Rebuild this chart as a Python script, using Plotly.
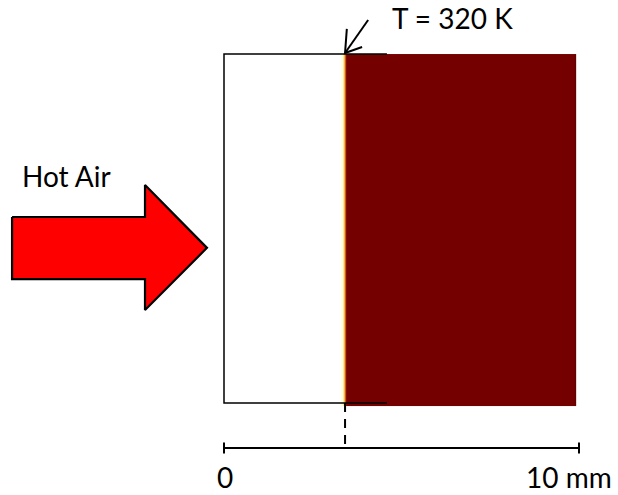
import plotly.graph_objects as go

# ---- data (all in mm) ----
scale_bar_mm = [0, 10]
scale_labels = ["0", "10 mm"]
domain_x = [0.0, 9.915]          # sample width
domain_y = [0.0, 9.83]           # sample height
front_x = 3.41                   # position of the T = 320 K front
front_label = "T = 320 K"
air_label = "Hot Air"

# temperature field across x (column edges) and relative temperature per column
field_x_edges = [3.30, 3.36, 3.39, 3.42, 3.45, 9.86, 9.915]
field_z = [0.05, 0.25, 0.5, 0.75, 1.0, 0.97]
field_colorscale = [[0.0, "#ffffff"], [0.1, "#fff8c8"], [0.3, "#ffe070"],
                    [0.55, "#f0a030"], [0.8, "#c03010"], [0.97, "#680000"], [1.0, "#740000"]]

# hot-air arrow outline (mm)
arrow_x = [-5.97, -2.225, -2.225, -0.48, -2.225, -2.225, -5.97, -5.97]
arrow_y = [5.24, 5.24, 6.14, 4.37, 2.62, 3.49, 3.49, 5.24]

# outline of the virgin (left) part of the sample
outline_x = [4.59, 0.0, 0.0, 4.59]
outline_y = [domain_y[1], domain_y[1], domain_y[0], domain_y[0]]

bar_y = -1.27
tick_half = 0.155

fig = go.Figure()

# temperature field
fig.add_trace(go.Heatmap(
    x=field_x_edges, y=[-0.085, domain_y[1]],
    z=[field_z], zmin=0, zmax=1, colorscale=field_colorscale,
    showscale=False, hoverinfo="skip"))

# outline
fig.add_trace(go.Scatter(x=outline_x, y=outline_y, mode="lines",
                         line=dict(color="black", width=1.5), hoverinfo="skip"))

# hot air arrow
fig.add_trace(go.Scatter(x=arrow_x, y=arrow_y, mode="lines", fill="toself",
                         fillcolor="#ff0000", line=dict(color="black", width=2.2),
                         hoverinfo="skip"))

# dashed line from front to scale bar
fig.add_trace(go.Scatter(x=[front_x, front_x], y=[domain_y[0], bar_y], mode="lines",
                         line=dict(color="black", width=2, dash="9px,7px"),
                         hoverinfo="skip"))

# scale bar with end ticks
fig.add_trace(go.Scatter(x=scale_bar_mm, y=[bar_y, bar_y], mode="lines",
                         line=dict(color="black", width=2), hoverinfo="skip"))
for xv in scale_bar_mm:
    fig.add_trace(go.Scatter(x=[xv, xv], y=[bar_y + tick_half, bar_y - tick_half],
                             mode="lines", line=dict(color="black", width=2),
                             hoverinfo="skip"))

# pointer arrow to the front (shaft + open head)
tail = (4.06, 10.79)
head = (front_x, domain_y[1] + 0.03)
fig.add_trace(go.Scatter(x=[tail[0], head[0]], y=[tail[1], head[1]], mode="lines",
                         line=dict(color="black", width=2), hoverinfo="skip"))
fig.add_trace(go.Scatter(x=[3.46, head[0], 3.89], y=[10.54, head[1], 10.03], mode="lines",
                         line=dict(color="black", width=2), hoverinfo="skip"))

font = dict(family="Lato, Carlito, Calibri, sans-serif", size=28, color="black")
fig.add_annotation(x=6.45, y=10.85, text=front_label, showarrow=False, font=font)
fig.add_annotation(x=-4.45, y=6.39, text=air_label, showarrow=False, font=font)
fig.add_annotation(x=0.03, y=-2.08, text=scale_labels[0], showarrow=False, font=font)
fig.add_annotation(x=9.72, y=-2.08, text=scale_labels[1], showarrow=False, font=font)

fig.update_layout(
    width=618, height=495,
    margin=dict(l=0, r=0, t=0, b=0),
    paper_bgcolor="white", plot_bgcolor="white",
    showlegend=False,
    xaxis=dict(range=[-224 / 35.5, (618 - 224) / 35.5], visible=False, fixedrange=True),
    yaxis=dict(range=[-(495 - 403) / 35.5, 403 / 35.5], visible=False, fixedrange=True),
)

fig.write_html("out.html", config={"displayModeBar": False, "staticPlot": True},
               post_script="document.body.style.margin='0';document.body.style.overflow='hidden';")
